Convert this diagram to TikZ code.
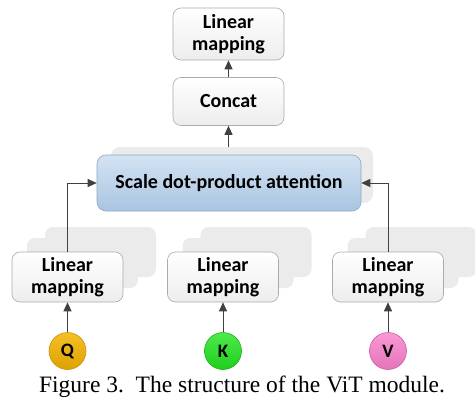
\documentclass[tikz,border=0pt]{standalone}
\usepackage{fontspec}
\setmainfont{Liberation Serif}
\newfontfamily\boxfont{Carlito}
\usetikzlibrary{arrows.meta}

\definecolor{boxedge}{HTML}{ABABAB}
\definecolor{boxbottom}{HTML}{EDEDED}
\definecolor{ghost}{HTML}{EBEBEB}
\definecolor{attntop}{HTML}{D3E3F2}
\definecolor{attnbottom}{HTML}{A9C5E2}
\definecolor{attnedge}{HTML}{8FA6C0}
\definecolor{linkcol}{HTML}{404040}
\definecolor{qcol}{HTML}{F4B400}
\definecolor{qedge}{HTML}{C99300}
\definecolor{kcol}{HTML}{22E51F}
\definecolor{kedge}{HTML}{1AB018}
\definecolor{vcol}{HTML}{F87FCB}
\definecolor{vedge}{HTML}{C8609F}

\begin{document}
\begin{tikzpicture}[x=1pt,y=-1pt,
  labelfont/.style={font=\boxfont\bfseries\fontsize{20}{21.5}\selectfont},
  mapbox/.style={labelfont, draw=boxedge, line width=0.6pt, rounded corners=8pt,
    top color=white, bottom color=boxbottom, align=center,
    minimum width=111pt, minimum height=50pt, inner sep=0pt},
  ghostbox/.style={fill=ghost, rounded corners=8pt, minimum width=111pt,
    minimum height=50pt, inner sep=0pt},
  attnbox/.style={labelfont, draw=attnedge, line width=0.6pt, rounded corners=9pt,
    top color=attntop, bottom color=attnbottom,
    minimum width=264pt, minimum height=56pt, inner sep=0pt},
  attnghost/.style={fill=ghost, rounded corners=9pt,
    minimum width=262pt, minimum height=56pt, inner sep=0pt},
  token/.style={circle, font=\boxfont\bfseries\fontsize{19}{20}\selectfont,
    line width=0.6pt, minimum size=37pt, inner sep=0pt},
  link/.style={draw=linkcol, line width=1pt,
    -{Triangle[length=9pt,width=8pt]}}
]
\useasboundingbox (0,0) rectangle (475,402);

% stacked copies behind the three input mappings
\foreach \cx/\nm in {67.5/q, 223/k, 388/v}{
  \node[ghostbox] (\nm ghostB) at (\cx+33,252) {};
  \node[ghostbox] (\nm ghostA) at (\cx+15,263) {};
}

% attention block with its backdrop
\node[attnghost] (attnghost) at (242,175) {};
\node[attnbox] (attn) at (229,183) {Scale dot-product attention};

% output path
\node[mapbox, minimum height=52pt] (outmap) at (228.5,34) {Linear\\mapping};
\node[mapbox, minimum height=48pt] (concat) at (228.5,101.5) {Concat};

% input mappings
\node[mapbox] (qmap) at (67.5,277) {Linear\\mapping};
\node[mapbox] (kmap) at (223,277) {Linear\\mapping};
\node[mapbox] (vmap) at (388,277) {Linear\\mapping};

% Q, K, V inputs
\node[token, top color=qcol!85!white, bottom color=qcol!90!black, draw=qedge] (q) at (67.5,351) {Q};
\node[token, top color=kcol!80!white, bottom color=kcol!90!black, draw=kedge] (k) at (223,351) {K};
\node[token, top color=vcol!80!white, bottom color=vcol!92!black, draw=vedge] (v) at (388,351) {V};

% connectors
\draw[link] (q) -- (qmap);
\draw[link] (k) -- (kmap);
\draw[link] (v) -- (vmap);
\draw[link] (qmap.north) |- (attn.west);
\draw[link] (vmap.north) |- (attn.east);
\draw[link] (attnghost.north -| concat.south) -- (concat.south);
\draw[link] (concat) -- (outmap);

% caption
\node[font=\fontsize{23.5}{27}\selectfont, anchor=base] (caption) at (242,392)
  {Figure 3.\ \ The structure of the ViT module.};
\end{tikzpicture}
\end{document}
